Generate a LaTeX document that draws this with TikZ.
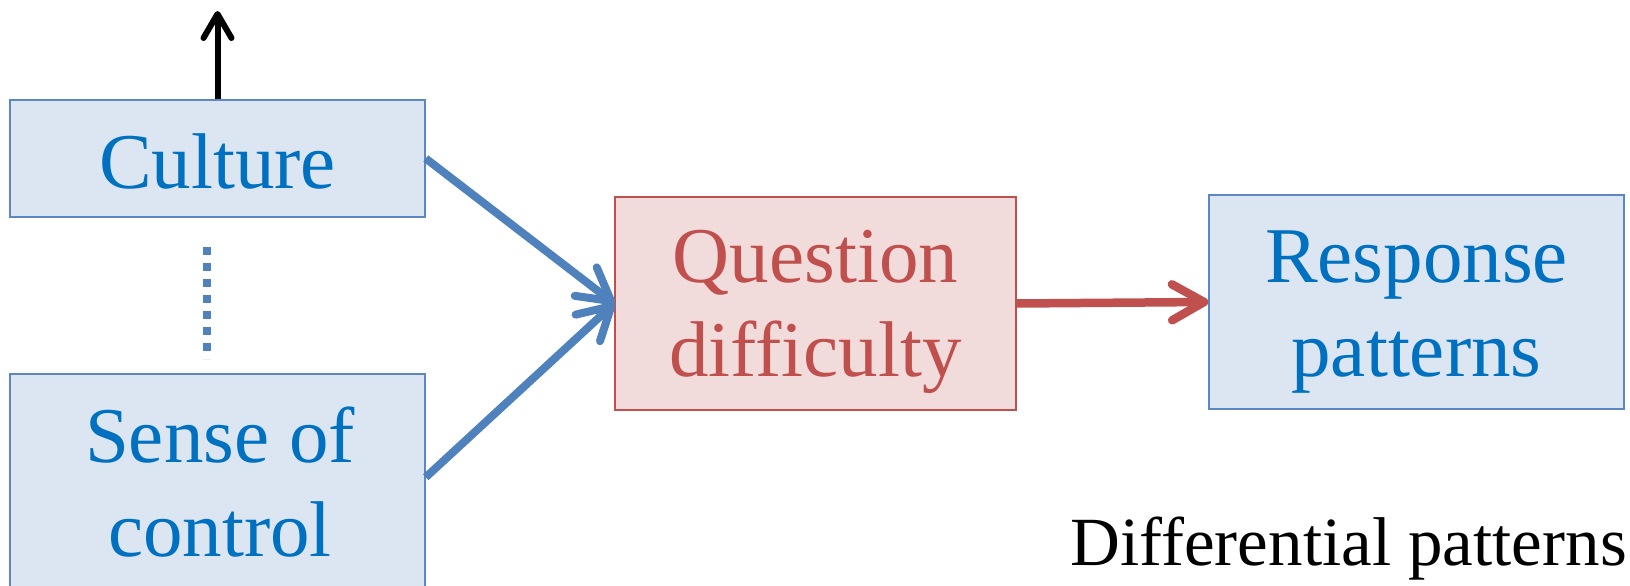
\documentclass[tikz,border=0pt]{standalone}
\usepackage{fontspec}
\setmainfont{Liberation Serif}
\usetikzlibrary{arrows.meta,calc}

\definecolor{boxblue}{HTML}{DCE6F2}
\definecolor{edgeblue}{HTML}{5B87C5}
\definecolor{txtblue}{HTML}{0070C0}
\definecolor{boxred}{HTML}{F2DCDB}
\definecolor{edgered}{HTML}{C0504D}
\definecolor{arrowblue}{HTML}{4F81BD}

\tikzset{
  bluebox/.style={draw=edgeblue, fill=boxblue, line width=1.5pt, inner sep=0pt},
  redbox/.style={draw=edgered, fill=boxred, line width=1.5pt, inner sep=0pt},
  boxtext/.style={font=\fontsize{79pt}{94pt}\selectfont, align=center, inner sep=0pt},
  bluetext/.style={boxtext, text=txtblue},
  redtext/.style={boxtext, text=edgered},
  bluearrow/.style={draw=arrowblue, line width=8pt,
    -{Straight Barb[length=32pt,width=36pt,line width=8pt,round]}},
  redarrow/.style={draw=edgered, line width=8.5pt,
    -{Straight Barb[length=32pt,width=36pt,line width=8.5pt,round]}},
  blackarrow/.style={draw=black, line width=6pt,
    -{Straight Barb[length=24pt,width=28pt,line width=6pt,round]}},
  dotline/.style={draw=arrowblue, line width=8.5pt, dash pattern=on 8pt off 8pt},
}

\begin{document}
\begin{tikzpicture}[x=1pt,y=-1pt]
\useasboundingbox (0,0) rectangle (1630,586);
\clip (0,0) rectangle (1630,586);

% boxes
\node[bluebox, minimum width=415pt, minimum height=117pt] (culture) at (217.5,158.5) {};
\node[bluebox, minimum width=415pt, minimum height=250pt] (sense) at (217.5,499) {};
\node[redbox, minimum width=401pt, minimum height=213pt] (question) at (815.5,303.5) {};
\node[bluebox, minimum width=415pt, minimum height=214pt] (response) at (1416.5,302) {};

% box labels
\node[bluetext] (culturetext) at (217.5,161) {Culture};
\node[bluetext] (sensetext) at (220,482.5) {Sense of\\control};
\node[redtext] (questiontext) at (815.5,311.5) {Question\\difficulty};
\node[bluetext] (responsetext) at (1416.5,312) {Response\\patterns};
\node[font=\fontsize{69pt}{80pt}\selectfont, inner sep=0pt, anchor=base east]
  (difftext) at (1627,565) {Differential patterns};

% connectors
\coordinate (up) at (217.5,11);
\draw[blackarrow] (culture.north) -- (up);

\coordinate (dtop) at (207,247);
\coordinate (dbot) at (207,359);
\draw[dotline] (dtop) -- (dbot);

\draw[bluearrow] (culture.east) -- (question.west);
\draw[bluearrow] ($(sense.north east)+(0,104)$) -- (question.west);
\draw[redarrow] (question.east) -- (response.west);
\end{tikzpicture}
\end{document}
